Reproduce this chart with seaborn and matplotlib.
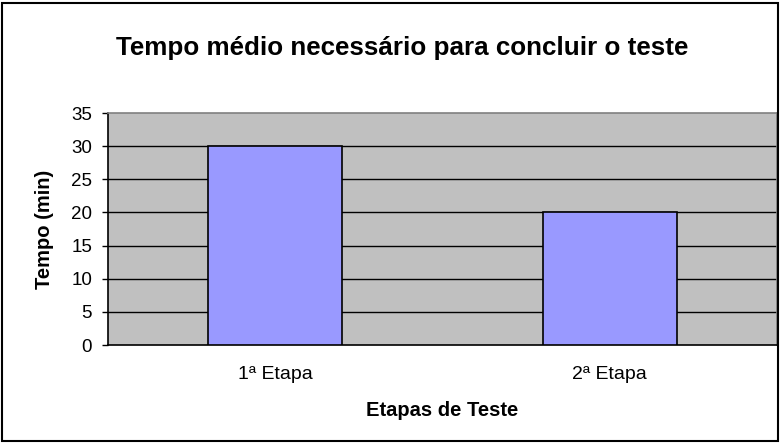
import matplotlib
matplotlib.use("Agg")
import matplotlib.pyplot as plt
import seaborn as sns
import pandas as pd
from matplotlib.patches import Rectangle

# Average time needed to finish the test, per stage
etapas = ["1ª Etapa", "2ª Etapa"]
tempos = [30, 20]
y_ticks = [0, 5, 10, 15, 20, 25, 30, 35]

sns.set_theme(style="white")
plt.rcParams["font.family"] = ["Liberation Sans", "DejaVu Sans"]
plt.rcParams.update({"text.color": "black", "axes.labelcolor": "black",
                     "xtick.color": "black", "ytick.color": "black"})

df = pd.DataFrame({"Etapa": etapas, "Tempo": tempos})

fig = plt.figure(figsize=(7.81, 4.44), dpi=100)
ax = fig.add_axes([108 / 781, 1 - 345 / 444, (777 - 108) / 781, (345 - 113) / 444])
ax.set_facecolor("#C0C0C0")

sns.barplot(data=df, x="Etapa", y="Tempo", color="#9999FF", saturation=1,
            width=0.4, edgecolor="black", linewidth=1.2, ax=ax, zorder=3)

ax.set_ylim(0, 35)
ax.set_xlim(-0.5, 1.5)
ax.set_yticks(y_ticks)
ax.set_yticklabels([str(v) for v in y_ticks], fontsize=13.5)
for v in y_ticks[1:-1]:
    ax.axhline(v, color="black", linewidth=1.0, zorder=1)

# category ticks sit on the boundaries between stages
ax.set_xticks([0, 1])
ax.set_xticklabels(etapas, fontsize=14)
ax.set_xticks([-0.5, 0.5, 1.5], minor=True)
ax.tick_params(axis="x", which="major", length=0, pad=15)
ax.tick_params(axis="x", which="minor", length=4.5, width=1, color="black", direction="out")
ax.tick_params(axis="y", length=4.5, width=1, color="black", direction="out", left=True, pad=7)

for side in ("top", "right"):
    ax.spines[side].set_color("#808080")
    ax.spines[side].set_linewidth(1.2)
for side in ("left", "bottom"):
    ax.spines[side].set_color("black")
    ax.spines[side].set_linewidth(1.2)

ax.set_xlabel("Etapas de Teste", fontsize=14.5, fontweight="bold", va="center")
ax.set_ylabel("Tempo (min)", fontsize=14.5, fontweight="bold", va="center")
ax.xaxis.set_label_coords(0.5, -66 / 232)
ax.yaxis.set_label_coords(-63 / 669, 0.5)

fig.text(402 / 781, 1 - 48 / 444, "Tempo médio necessário para concluir o teste",
         ha="center", va="center", fontsize=18.7, fontweight="bold")

# chart frame
fig.patches.append(Rectangle((2 / 781, 3 / 444), 776 / 781, 438 / 444,
                             transform=fig.transFigure, fill=False,
                             edgecolor="black", linewidth=1.5))

fig.savefig("out.png", dpi=100)
